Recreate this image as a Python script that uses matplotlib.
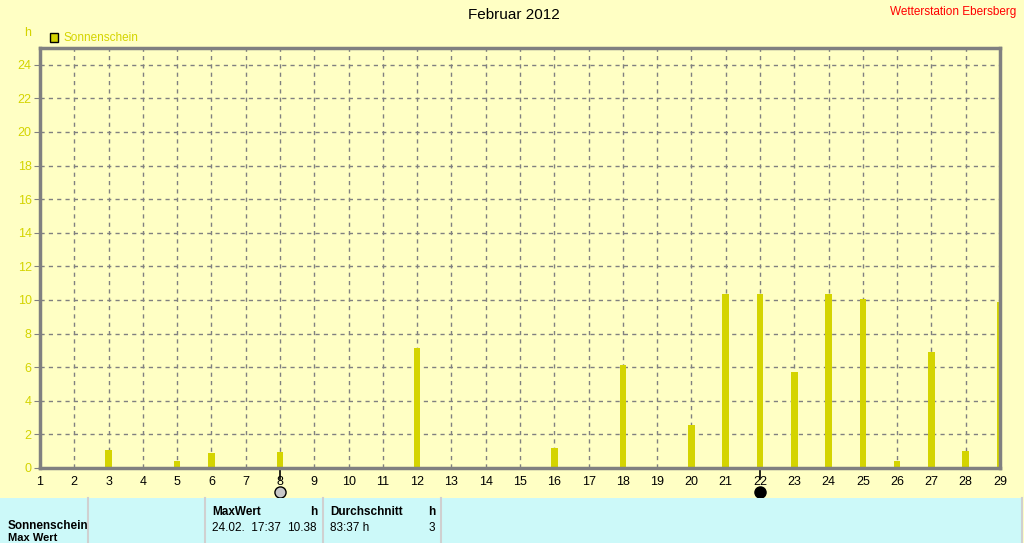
import matplotlib.pyplot as plt
from matplotlib.patches import Rectangle

# Daten: Sonnenscheindauer Februar 2012 (Stunden pro Tag)
tage = list(range(1, 30))
sonnenschein = [0.05, 0.05, 1.1, 0.05, 0.4, 0.9, 0.05, 0.95, 0.05, 0.05,
                0.05, 7.15, 0.05, 0.05, 0.05, 1.17, 0.05, 6.15, 0.05, 2.55,
                10.37, 10.37, 5.7, 10.38, 10.08, 0.44, 6.9, 1.0, 9.9]
y_ticks = list(range(0, 25, 2))
mond_tage = [8, 22]          # Vollmond / Neumond
mond_farben = ['#C8C8C8', 'black']

W, H = 1024, 543
bg = '#FFFFC4'
gelb = '#D4D400'

def px(x, y):
    return x / W, 1 - y / H

fig = plt.figure(figsize=(W / 100, H / 100), dpi=100, facecolor=bg)
plt.rcParams['font.family'] = ['Liberation Sans', 'DejaVu Sans']

ax = fig.add_axes([40 / W, (H - 468) / H, 960 / W, 420 / H])
ax.set_facecolor(bg)

ax.bar(tage, sonnenschein, width=0.19, color=gelb, zorder=3)

ax.set_xlim(1, 29)
ax.set_ylim(0, 25)
ax.set_xticks(tage)
ax.set_yticks(y_ticks)
ax.tick_params(axis='x', length=0, pad=6, labelsize=9, labelcolor='black')
ax.tick_params(axis='y', length=4, color='#808080', pad=2, labelsize=9, labelcolor=gelb)
ax.grid(True, color='#808080', linestyle=(0, (3, 3)), linewidth=1, zorder=1)
for s in ax.spines.values():
    s.set_color('#808080')
    s.set_linewidth(2.5)
    s.set_zorder(4)

# Mondphasen unter der Achse
for t, c in zip(mond_tage, mond_farben):
    ax.plot([t, t], [0, -0.025], color='black', lw=1.2, transform=ax.get_xaxis_transform(), clip_on=False)
    ax.plot(t, -0.057, 'o', ms=8, mfc=c, mec='black', mew=1, transform=ax.get_xaxis_transform(), clip_on=False)

# Kopfzeile
fig.text(*px(514, 15), 'Februar 2012', ha='center', va='center', fontsize=11)
fig.text(*px(1016, 12), 'Wetterstation Ebersberg', ha='right', va='center', fontsize=8.5, color='red')
fig.text(*px(28, 33), 'h', ha='center', va='center', fontsize=9, color=gelb)
fig.patches.append(Rectangle(px(50, 42), 8 / W, 9 / H, transform=fig.transFigure,
                             facecolor=gelb, edgecolor='black', lw=1))
fig.text(*px(63, 38), 'Sonnenschein', ha='left', va='center', fontsize=8.5, color=gelb)

# Tabelle unten
fig.patches.append(Rectangle(px(0, 543), 1022 / W, 45 / H, transform=fig.transFigure,
                             facecolor='#CCF9F9', edgecolor='none'))
for xl in [88, 205, 323, 441, 1022]:
    fig.add_artist(plt.Line2D([xl / W, xl / W], [0, 45 / H], color='#D0D0D0', lw=1.5))

fig.text(*px(8, 526), 'Sonnenschein', ha='left', va='center', fontsize=8.5, fontweight='bold')
fig.text(*px(8, 538), 'Max Wert', ha='left', va='center', fontsize=8, fontweight='bold')
fig.text(*px(212, 512), 'MaxWert', ha='left', va='center', fontsize=8.5, fontweight='bold')
fig.text(*px(317, 512), 'h', ha='right', va='center', fontsize=8.5, fontweight='bold')
fig.text(*px(212, 528), '24.02.  17:37', ha='left', va='center', fontsize=8.5)
fig.text(*px(317, 528), '10.38', ha='right', va='center', fontsize=8.5)
fig.text(*px(330, 512), 'Durchschnitt', ha='left', va='center', fontsize=8.5, fontweight='bold')
fig.text(*px(435, 512), 'h', ha='right', va='center', fontsize=8.5, fontweight='bold')
fig.text(*px(330, 528), '83:37 h', ha='left', va='center', fontsize=8.5)
fig.text(*px(435, 528), '3', ha='right', va='center', fontsize=8.5)

fig.savefig('out.png', dpi=100, facecolor=bg)
